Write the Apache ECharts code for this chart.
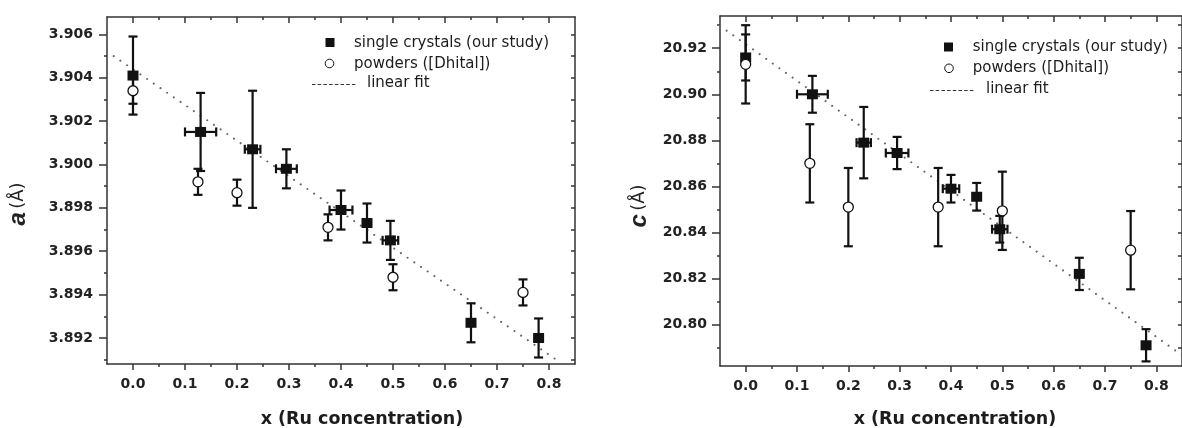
<!DOCTYPE html>
<html>
<head>
<meta charset="utf-8">
<script src="https://cdn.jsdelivr.net/npm/echarts@6/dist/echarts.min.js"></script>
<style>
html,body{margin:0;padding:0;background:#fff;}
#chart{width:1182px;height:428px;}
</style>
</head>
<body>
<div id="chart"></div>
<script>
// ---------- tick labels ----------
const xTicks = [0.0, 0.1, 0.2, 0.3, 0.4, 0.5, 0.6, 0.7, 0.8];
const xMinorTicks = [0.05, 0.15, 0.25, 0.35, 0.45, 0.55, 0.65, 0.75];
const aTicks = [3.892, 3.894, 3.896, 3.898, 3.900, 3.902, 3.904, 3.906];
const aMinorTicks = [3.891, 3.893, 3.895, 3.897, 3.899, 3.901, 3.903, 3.905];
const cTicks = [20.80, 20.82, 20.84, 20.86, 20.88, 20.90, 20.92];
const cMinorTicks = [20.79, 20.81, 20.83, 20.85, 20.87, 20.89, 20.91, 20.93];

// ---------- panel a: lattice parameter a ----------
const aSingleX    = [0.0, 0.13, 0.23, 0.295, 0.40, 0.45, 0.495, 0.65, 0.78];
const aSingleY    = [3.9041, 3.9015, 3.9007, 3.8998, 3.8979, 3.8973, 3.8965, 3.8927, 3.8920];
const aSingleYErr = [0.0018, 0.0018, 0.0027, 0.0009, 0.0009, 0.0009, 0.0009, 0.0009, 0.0009];
const aSingleXErr = [0, 0.03, 0.015, 0.02, 0.022, 0, 0.015, 0, 0];
const aPowderX    = [0.0, 0.125, 0.2, 0.375, 0.5, 0.75];
const aPowderY    = [3.9034, 3.8992, 3.8987, 3.8971, 3.8948, 3.8941];
const aPowderYErr = [0.0006, 0.0006, 0.0006, 0.0006, 0.0006, 0.0006];
const aFitX = [-0.05, 0.812];
const aFitY = [3.90521, 3.89103];

// ---------- panel c: lattice parameter c ----------
const cSingleX    = [0.0, 0.13, 0.23, 0.295, 0.40, 0.45, 0.495, 0.65, 0.78];
const cSingleY    = [20.916, 20.900, 20.879, 20.8745, 20.859, 20.8555, 20.8414, 20.822, 20.791];
const cSingleYErr = [0.010, 0.008, 0.0155, 0.007, 0.006, 0.006, 0.0058, 0.007, 0.007];
const cSingleXErr = [0, 0.03, 0.014, 0.022, 0.016, 0, 0.015, 0, 0];
const cPowderX    = [0.0, 0.125, 0.2, 0.375, 0.5, 0.75];
const cPowderY    = [20.913, 20.870, 20.851, 20.851, 20.8494, 20.8323];
const cPowderYErr = [0.017, 0.017, 0.017, 0.017, 0.017, 0.017];
const cFitX = [-0.05, 0.85];
const cFitY = [20.9297, 20.7867];

const legendLabels = ['single crystals (our study)', 'powders ([Dhital])', 'linear fit'];
const xTitle = 'x (Ru concentration)';

// ---------- helpers ----------
const INK = '#111';
const AXIS = {color: '#333', width: 1.5};
const LABEL = {color: '#222', fontFamily: 'DejaVu Sans', fontWeight: 'bold', fontSize: 14};

function baseAxis(grid, min, max, position) {
  return {
    type: 'value', gridIndex: grid, min: min, max: max, position: position,
    splitLine: {show: false}, axisPointer: {show: false},
    axisLine: {show: false, onZero: false},
    axisLabel: {show: false}, axisTick: {show: false}
  };
}
function axesFor(gMain, gMinor, dim, min, max, major, minor, fmt, margin, mirrorAll, majLen) {
  const p = dim === 'x' ? ['bottom', 'top'] : ['left', 'right'];
  const main1 = baseAxis(gMain, min, max, p[0]);
  main1.axisLine = {show: true, onZero: false, lineStyle: AXIS};
  main1.axisTick = {show: true, inside: false, length: majLen, lineStyle: AXIS, customValues: major};
  main1.axisLabel = Object.assign({show: true, customValues: major, formatter: fmt, margin: margin}, LABEL);
  const main2 = baseAxis(gMain, min, max, p[1]);
  main2.axisLine = {show: true, onZero: false, lineStyle: AXIS};
  main2.axisTick = {show: true, inside: true, length: mirrorAll ? 4 : 6, lineStyle: AXIS,
                    customValues: mirrorAll ? major.concat(minor) : major};
  const min1 = baseAxis(gMinor, min, max, p[0]);
  min1.axisTick = {show: true, inside: false, length: 3, lineStyle: AXIS, customValues: minor};
  const min2 = baseAxis(gMinor, min, max, p[1]);
  min2.axisTick = {show: !mirrorAll, inside: true, length: 3, lineStyle: AXIS, customValues: minor};
  return [main1, main2, min1, min2];
}

function errRender(params, api) {
  const x = api.value(0), y = api.value(1), ey = api.value(2), ex = api.value(3);
  const c = api.coord([x, y]);
  const t = api.coord([x, y + ey]);
  const b = api.coord([x, y - ey]);
  const cap = 4.5;
  const style = {stroke: INK, lineWidth: 2.2};
  const ch = [
    {type: 'line', shape: {x1: c[0], y1: t[1], x2: c[0], y2: b[1]}, style: style},
    {type: 'line', shape: {x1: c[0] - cap, y1: t[1], x2: c[0] + cap, y2: t[1]}, style: style},
    {type: 'line', shape: {x1: c[0] - cap, y1: b[1], x2: c[0] + cap, y2: b[1]}, style: style}
  ];
  if (ex > 0) {
    const l = api.coord([x - ex, y]);
    const r = api.coord([x + ex, y]);
    ch.push({type: 'line', shape: {x1: l[0], y1: c[1], x2: r[0], y2: c[1]}, style: style});
    ch.push({type: 'line', shape: {x1: l[0], y1: c[1] - cap, x2: l[0], y2: c[1] + cap}, style: style});
    ch.push({type: 'line', shape: {x1: r[0], y1: c[1] - cap, x2: r[0], y2: c[1] + cap}, style: style});
  }
  return {type: 'group', children: ch};
}

function seriesFor(xi, yi, sx, sy, sye, sxe, px, py, pye, fx, fy) {
  return [
    {type: 'line', xAxisIndex: xi, yAxisIndex: yi, showSymbol: false, silent: true,
     data: fx.map((v, i) => [v, fy[i]]),
     lineStyle: {color: '#666', width: 2, type: [0.1, 8], cap: 'round'}, z: 1},
    {type: 'custom', xAxisIndex: xi, yAxisIndex: yi, renderItem: errRender, silent: true,
     data: sx.map((v, i) => [v, sy[i], sye[i], sxe[i]]), encode: {x: 0, y: 1}, z: 2},
    {type: 'scatter', xAxisIndex: xi, yAxisIndex: yi, symbol: 'rect', symbolSize: [11, 10],
     itemStyle: {color: INK, opacity: 1}, data: sx.map((v, i) => [v, sy[i]]), z: 3},
    {type: 'custom', xAxisIndex: xi, yAxisIndex: yi, renderItem: errRender, silent: true,
     data: px.map((v, i) => [v, py[i], pye[i], 0]), encode: {x: 0, y: 1}, z: 4},
    {type: 'scatter', xAxisIndex: xi, yAxisIndex: yi, symbol: 'circle', symbolSize: 10,
     itemStyle: {color: '#fff', borderColor: INK, borderWidth: 1.3, opacity: 1},
     data: px.map((v, i) => [v, py[i]]), z: 5}
  ];
}

function legendGraphics(sqX, sqY, ciX, ciY, lnX1, lnX2, lnY, txX, fitTxX, rows) {
  const txt = {fill: '#1c1c1c', fontFamily: 'DejaVu Sans', fontSize: 15, verticalAlign: 'middle'};
  return [
    {type: 'rect', shape: {x: sqX - 4.5, y: sqY - 4.5, width: 9, height: 9}, style: {fill: INK}},
    {type: 'circle', shape: {cx: ciX, cy: ciY, r: 4.3}, style: {fill: '#fff', stroke: INK, lineWidth: 1}},
    {type: 'line', shape: {x1: lnX1, y1: lnY, x2: lnX2, y2: lnY}, style: {stroke: '#333', lineWidth: 1, lineDash: [3.5, 2.2]}},
    {type: 'text', x: txX, y: rows[0], style: Object.assign({text: legendLabels[0]}, txt)},
    {type: 'text', x: txX, y: rows[1], style: Object.assign({text: legendLabels[1]}, txt)},
    {type: 'text', x: fitTxX, y: rows[2], style: Object.assign({text: legendLabels[2]}, txt)}
  ];
}

function yTitle(x, y, letter) {
  return {type: 'text', x: x, y: y, rotation: Math.PI / 2,
    style: {text: '{a|' + letter + '} {b|(Å)}', align: 'center', verticalAlign: 'middle',
      rich: {
        a: {fontSize: 24, fontStyle: 'italic', fontWeight: 'bold', fontFamily: 'Liberation Sans', fill: '#222'},
        b: {fontSize: 18, fontFamily: 'DejaVu Sans', fill: '#222'}
      }}};
}
function xTitleG(x, y) {
  return {type: 'text', x: x, y: y,
    style: {text: xTitle, align: 'center', verticalAlign: 'middle', fill: '#1c1c1c',
      fontFamily: 'DejaVu Sans', fontWeight: 'bold', fontSize: 17.5}};
}

const fx1 = v => v.toFixed(1);
const fa = v => v.toFixed(3);
const fc = v => v.toFixed(2);

const xA = axesFor(0, 1, 'x', -0.05, 0.85, xTicks, xMinorTicks, fx1, 13, false, 6);
const yA = axesFor(0, 1, 'y', 3.8908, 3.9068, aTicks, aMinorTicks, fa, 14, true, 8);
const xC = axesFor(2, 3, 'x', -0.05, 0.85, xTicks, xMinorTicks, fx1, 13, false, 6);
const yC = axesFor(2, 3, 'y', 20.782, 20.934, cTicks, cMinorTicks, fc, 13, true, 8);

const option = {
  animation: false,
  backgroundColor: '#fff',
  grid: [
    {left: 107, top: 17, width: 468, height: 347},
    {left: 107, top: 17, width: 468, height: 347},
    {left: 720, top: 16, width: 471, height: 350},
    {left: 720, top: 16, width: 471, height: 350}
  ],
  xAxis: xA.concat(xC),
  yAxis: yA.concat(yC),
  series: seriesFor(0, 0, aSingleX, aSingleY, aSingleYErr, aSingleXErr, aPowderX, aPowderY, aPowderYErr, aFitX, aFitY)
    .concat(seriesFor(4, 4, cSingleX, cSingleY, cSingleYErr, cSingleXErr, cPowderX, cPowderY, cPowderYErr, cFitX, cFitY)),
  graphic: [].concat(
    legendGraphics(330, 42.5, 329.5, 63.5, 312, 357, 84.5, 354, 367, [42.7, 64, 83.3]),
    legendGraphics(948.5, 47, 949, 68.3, 930, 975, 90.5, 972.7, 986, [46.7, 68.3, 89.3]),
    [yTitle(18, 204, 'a'), yTitle(639, 206, 'c'), xTitleG(362, 419), xTitleG(955, 419)]
  )
};

const chart = echarts.init(document.getElementById('chart'), null, {renderer: 'canvas'});
chart.setOption(option);
</script>
</body>
</html>
